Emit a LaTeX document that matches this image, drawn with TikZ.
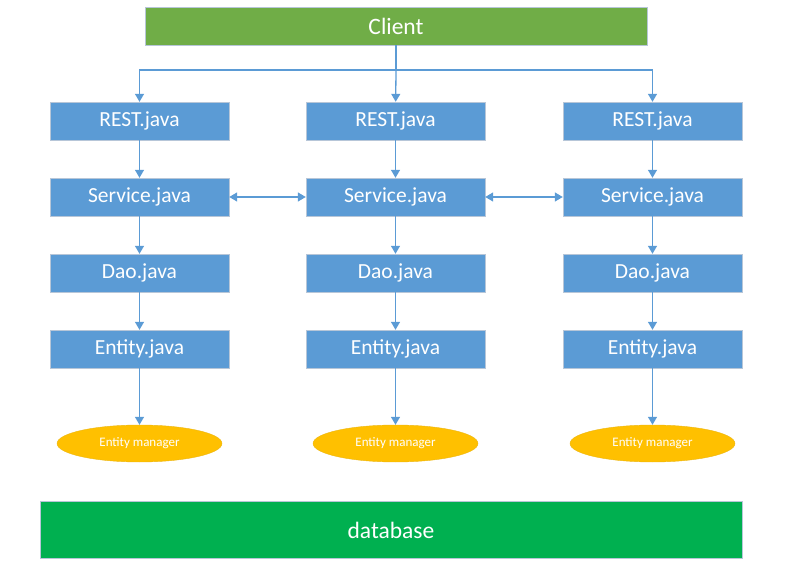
\documentclass[tikz,border=0pt]{standalone}
\usepackage{fontspec}
\setmainfont{Carlito}
\usetikzlibrary{positioning,calc,arrows.meta,shapes.geometric}
\definecolor{boxblue}{HTML}{5B9BD5}
\definecolor{boxrim}{HTML}{B7C6D8}
\definecolor{clientgreen}{HTML}{70AD47}
\definecolor{dbgreen}{HTML}{00B050}
\definecolor{emyellow}{HTML}{FFC000}
\definecolor{linkblue}{HTML}{5B9BD5}

\begin{document}
\begin{tikzpicture}[x=1pt,y=-1pt]
  \useasboundingbox (0,0) rectangle (785,561);
  \node[draw=boxrim,fill=clientgreen,text=white,inner sep=0pt,
    minimum width=502pt,minimum height=38pt,
    font=\fontsize{23.5}{28}\selectfont] (client) at (396,26) {Client};
  \begin{scope}[
    every node/.style={
      draw=boxrim,
      fill=boxblue,
      text=white,
      inner sep=0pt,
      minimum width=179pt,
      minimum height=38pt,
      font=\fontsize{21.5}{26}\selectfont,
    },
    ]
    \path (139.5,121) node(rest-l){REST.java}
    ++(0,76) node(service-l){Service.java}
    ++(0,76) node(dao-l){Dao.java}
    ++(0,76) node(entity-l){Entity.java};
    \path (395.5,121) node(rest-m){REST.java}
    ++(0,76) node(service-m){Service.java}
    ++(0,76) node(dao-m){Dao.java}
    ++(0,76) node(entity-m){Entity.java};
    \path (652.5,121) node(rest-r){REST.java}
    ++(0,76) node(service-r){Service.java}
    ++(0,76) node(dao-r){Dao.java}
    ++(0,76) node(entity-r){Entity.java};
  \end{scope}
  \begin{scope}[
    every node/.style={
      ellipse,
      fill=emyellow,
      draw=emyellow!85!gray,
      text=white,
      inner sep=0pt,
      minimum width=165pt,
      minimum height=37pt,
      font=\fontsize{13}{15}\selectfont,
    },
    ]
    \node (em-l) at ($(entity-l)+(0,94.5)$) {Entity manager};
    \node (em-m) at ($(entity-m)+(0,94.5)$) {Entity manager};
    \node (em-r) at ($(entity-r)+(0,94.5)$) {Entity manager};
  \end{scope}
  \node[draw=boxrim,fill=dbgreen,text=white,inner sep=0pt,
    minimum width=702pt,minimum height=57pt,
    font=\fontsize{23.5}{28}\selectfont] (database) at (391,530) {database};
  \coordinate (split) at (client.south |- 0,70);
  \begin{scope}[
    every path/.style={draw=linkblue,line width=1.3pt},
    >={Triangle[length=8pt,width=9pt]},
    ]
    \path (client) -- (split);
    \path[->] (split) -| (rest-l);
    \path[->] (split) -- (rest-m);
    \path[->] (split) -| (rest-r);
    \path[->]
    (rest-l)    edge (service-l)
    (service-l) edge (dao-l)
    (dao-l)     edge (entity-l)
    (entity-l)  edge (em-l)
    (rest-m)    edge (service-m)
    (service-m) edge (dao-m)
    (dao-m)     edge (entity-m)
    (entity-m)  edge (em-m)
    (rest-r)    edge (service-r)
    (service-r) edge (dao-r)
    (dao-r)     edge (entity-r)
    (entity-r)  edge (em-r);
    \path[<->]
    (service-l) edge (service-m)
    (service-m) edge (service-r);
  \end{scope}
\end{tikzpicture}
\end{document}
